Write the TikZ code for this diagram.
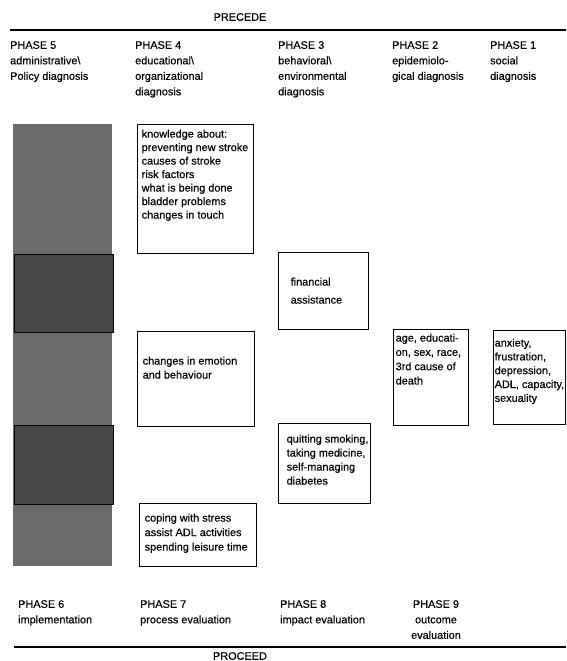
\documentclass[tikz,border=0pt]{standalone}
\usepackage{fontspec}
\setmainfont[FakeBold=0.4]{Liberation Sans}
\usetikzlibrary{positioning}

\begin{document}
\begin{tikzpicture}[x=1pt,y=-1pt,
    every node/.style={font=\fontsize{10.9}{14}\selectfont},
    frame/.style={draw,line width=1pt,inner sep=0pt},
    boxtext/.style={align=left,inner sep=0pt},
    phase/.style={align=left,inner sep=0pt,anchor=north west,font=\fontsize{10.9}{15.5}\selectfont},
    rule/.style={line width=1.3pt}]
  \useasboundingbox (0,0) rectangle (566,661);

  % PRECEDE header and rule
  \node[inner sep=0pt] (precede) at (240,17) {PRECEDE};
  \coordinate (tl) at (10,30);
  \coordinate (tr) at (566,30);
  \draw[rule] (tl) -- (tr);

  % phase headings
  \node[phase] (p5) at (10,41) {PHASE 5\\administrative\textbackslash\\Policy diagnosis};
  \node[phase] (p4) at (135,41) {PHASE 4\\educational\textbackslash\\organizational\\diagnosis};
  \node[phase] (p3) at (278,41) {PHASE 3\\behavioral\textbackslash\\environmental\\diagnosis};
  \node[phase] (p2) at (392,41) {PHASE 2\\epidemiolo-\\gical diagnosis};
  \node[phase] (p1) at (490,41) {PHASE 1\\social\\diagnosis};

  % shaded column of phase 5
  \node[fill=black!58,inner sep=0pt,minimum width=99pt,minimum height=442pt] (col) at (62.5,345) {};
  \node[draw,fill=black!72,line width=1pt,inner sep=0pt,minimum width=99pt,minimum height=78pt] (dark1) at (63.5,293) {};
  \node[draw,fill=black!72,line width=1pt,inner sep=0pt,minimum width=99pt,minimum height=79pt] (dark2) at (63.5,464.5) {};

  % frames
  \node[frame,minimum width=116pt,minimum height=129pt] (know) at (195,188.5) {};
  \node[frame,minimum width=90pt,minimum height=77pt] (fin) at (323,290.5) {};
  \node[frame,minimum width=75pt,minimum height=96pt] (epi) at (430.5,377) {};
  \node[frame,minimum width=72pt,minimum height=94pt] (soc) at (529,377) {};
  \node[frame,minimum width=117pt,minimum height=95pt] (emo) at (195.5,378.5) {};
  \node[frame,minimum width=92pt,minimum height=80pt] (quit) at (324,463) {};
  \node[frame,minimum width=117pt,minimum height=63pt] (cope) at (197.5,534.5) {};

  % frame texts
  \node[boxtext,below right=6pt and 5pt of know.north west,font=\fontsize{10.9}{13.5}\selectfont] (knowtxt)
    {knowledge about:\\preventing new stroke\\causes of stroke\\risk factors\\what is being done\\bladder problems\\changes in touch};
  \node[boxtext,below right=26pt and 13pt of fin.north west,font=\fontsize{10.9}{18}\selectfont] (fintxt)
    {financial\\assistance};
  \node[boxtext,below right=5pt and 3pt of epi.north west,font=\fontsize{10.9}{14.3}\selectfont] (epitxt)
    {age, educati-\\on, sex, race,\\3rd cause of\\death};
  \node[boxtext,below right=9pt and 2pt of soc.north west,font=\fontsize{10.9}{13.8}\selectfont] (soctxt)
    {anxiety,\\frustration,\\depression,\\ADL, capacity,\\sexuality};
  \node[boxtext,below right=26pt and 6pt of emo.north west] (emotxt)
    {changes in emotion\\and behaviour};
  \node[boxtext,below right=12pt and 9pt of quit.north west] (quittxt)
    {quitting smoking,\\taking medicine,\\self-managing\\diabetes};
  \node[boxtext,below right=11pt and 6pt of cope.north west,font=\fontsize{10.9}{14.5}\selectfont] (copetxt)
    {coping with stress\\assist ADL activities\\spending leisure time};

  % bottom phases
  \node[phase] (p6) at (18,600) {PHASE 6\\implementation};
  \node[phase] (p7) at (140,600) {PHASE 7\\process evaluation};
  \node[phase] (p8) at (280,600) {PHASE 8\\impact evaluation};
  \node[phase,anchor=north,align=center] (p9) at (436,600) {PHASE 9\\outcome\\evaluation};

  % PROCEED rule and footer
  \coordinate (bl) at (14,647);
  \coordinate (br) at (566,647);
  \draw[rule] (bl) -- (br);
  \node[inner sep=0pt] (proceed) at (240,656) {PROCEED};
\end{tikzpicture}
\end{document}
